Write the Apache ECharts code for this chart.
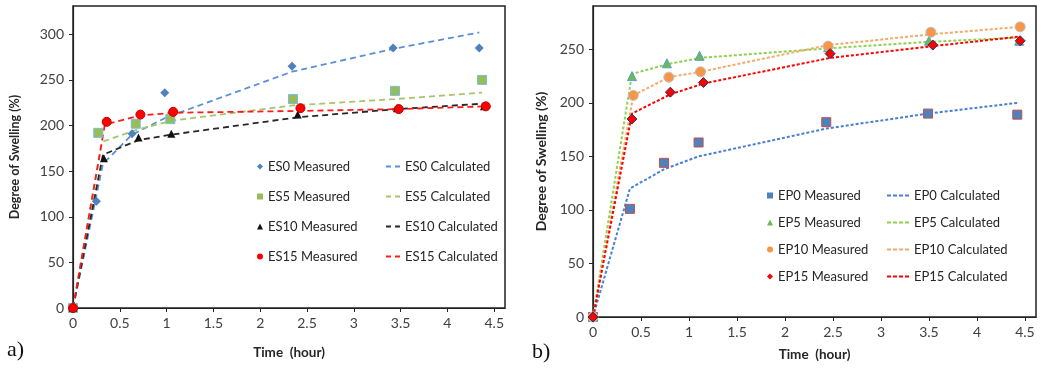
<!DOCTYPE html>
<html>
<head>
<meta charset="utf-8">
<script src="https://cdn.jsdelivr.net/npm/echarts@6/dist/echarts.min.js"></script>
<style>
  html, body { margin: 0; padding: 0; background: #fff; }
  #chart { width: 1044px; height: 371px; }
</style>
</head>
<body>
<div id="chart"></div>
<script>
// panel a) -- ES samples
const es0Time = [0, 0.25, 0.63, 0.98, 2.34, 3.42, 4.34];
const es0Measured = [0, 117, 191, 236, 265, 285, 285];
const es5Time = [0, 0.27, 0.67, 1.04, 2.35, 3.44, 4.37];
const es5Measured = [0, 192, 202, 207, 229, 238, 250];
const es10Time = [0, 0.33, 0.70, 1.05, 2.40, 3.46, 4.39];
const es10Measured = [0, 164, 187, 191, 212, 219, 221];
const es15Time = [0, 0.36, 0.72, 1.07, 2.43, 3.48, 4.41];
const es15Measured = [0, 204, 212, 215, 219, 218, 221];

const es0CalcTime = [0, 0.32, 0.63, 1.00, 2.34, 3.42, 4.34];
const es0Calculated = [0, 158, 190, 209, 259, 284, 302];
const es5CalcTime = [0, 0.31, 0.67, 1.04, 2.35, 3.44, 4.37];
const es5Calculated = [0, 182, 195, 205, 222, 229, 236];
const es10CalcTime = [0, 0.32, 0.70, 1.05, 2.40, 3.46, 4.39];
const es10Calculated = [0, 168, 184, 190, 209, 218, 224];
const es15CalcTime = [0, 0.34, 0.72, 1.07, 2.43, 3.48, 4.41];
const es15Calculated = [0, 201, 211, 214, 216, 218, 221];

// panel b) -- EP samples
const ep0Time = [0, 0.385, 0.74, 1.10, 2.43, 3.49, 4.42];
const ep0Measured = [0, 101, 144, 163, 182, 190, 189];
const ep5Time = [0, 0.406, 0.77, 1.11, 2.45, 3.50, 4.44];
const ep5Measured = [0, 225, 237, 244, 252, 258, 258];
const ep10Time = [0, 0.42, 0.79, 1.12, 2.45, 3.52, 4.45];
const ep10Measured = [0, 207, 224, 229, 253, 266, 271];
const ep15Time = [0, 0.406, 0.806, 1.15, 2.47, 3.54, 4.45];
const ep15Measured = [0, 185, 210, 219, 246, 254, 258];

const ep0Calculated = [0, 120, 138, 150, 176, 190, 200];
const ep5Calculated = [0, 227, 236, 242, 251, 257, 261];
const ep10Calculated = [0, 207, 224, 229, 254, 264, 271];
const ep15Calculated = [0, 190, 208, 218, 242, 253, 262];

const esNames = ['ES0', 'ES5', 'ES10', 'ES15'];
const epNames = ['EP0', 'EP5', 'EP10', 'EP15'];
const esSymbols = ['diamond', 'rect', 'triangle', 'circle'];
const epSymbols = ['rect', 'triangle', 'circle', 'diamond'];

function pairs(xs, ys) {
    return xs.map((x, i) => [x, ys[i]]);
}

const FONT = 'Lato';
const TEXT = '#262626';
// dashed legend keys, drawn as small filled bars
const LONG_DASH_ICON = 'path://M0,0h5v2h-5z M9,0h5v2h-5z';
const SHORT_DASH_ICON = 'path://M0,0h4v2h-4z M6,0h4v2h-4z M12,0h4v2h-4z M18,0h4v2h-4z';

function scatter(name, idx, data, symbol, size, color, border) {
    return {
        name: name, type: 'scatter', xAxisIndex: idx, yAxisIndex: idx,
        data: data, symbol: symbol, symbolSize: size, z: 5,
        itemStyle: { color: color, borderColor: border || color, borderWidth: border ? 1 : 0, opacity: 1 }
    };
}

function calcLine(name, idx, data, color, dash, width) {
    return {
        name: name, type: 'line', xAxisIndex: idx, yAxisIndex: idx,
        data: data, symbol: 'none', z: 3,
        lineStyle: { color: color, width: width, type: dash },
        itemStyle: { color: color }
    };
}

function xAxis(idx, max, nameGap) {
    return {
        type: 'value', gridIndex: idx, min: 0, max: max, interval: 0.5,
        name: 'Time  (hour)', nameLocation: 'middle', nameGap: nameGap,
        nameTextStyle: { fontFamily: FONT, fontWeight: 'bold', fontSize: 13.5, color: TEXT },
        axisLine: { lineStyle: { color: '#222', width: 1.2 } },
        axisTick: { length: 4, lineStyle: { color: '#222' } },
        axisLabel: { fontFamily: FONT, fontSize: 14, color: '#404040', margin: 8, showMaxLabel: false },
        splitLine: { show: false }
    };
}

function yAxis(idx, max, nameGap, nameSize) {
    return {
        type: 'value', gridIndex: idx, min: 0, max: max, interval: 50,
        name: 'Degree of Swelling (%)', nameLocation: 'middle', nameGap: nameGap,
        nameTextStyle: { fontFamily: FONT, fontWeight: 'bold', fontSize: nameSize, color: TEXT },
        axisLine: { show: true, lineStyle: { color: '#222', width: 1.2 } },
        axisTick: { show: true, length: 4, lineStyle: { color: '#222' } },
        axisLabel: { fontFamily: FONT, fontSize: 14, color: '#404040', margin: 9, showMaxLabel: false },
        splitLine: { show: false }
    };
}

function legend(items, left, top, gap, iconW, iconH) {
    return {
        orient: 'vertical', left: left, top: top, itemGap: gap,
        itemWidth: iconW, itemHeight: iconH, selectedMode: false,
        itemStyle: { borderWidth: 0 },
        data: items,
        textStyle: { fontFamily: FONT, fontSize: 13, color: TEXT }
    };
}

const chart = echarts.init(document.getElementById('chart'));

const option = {
    animation: false,
    backgroundColor: '#fff',
    title: [
        { text: 'a)', left: 2, top: 334, textStyle: { fontFamily: 'Liberation Serif', fontWeight: 'normal', fontSize: 22, color: '#111' } },
        { text: 'b)', left: 527, top: 336, textStyle: { fontFamily: 'Liberation Serif', fontWeight: 'normal', fontSize: 22, color: '#111' } }
    ],
    grid: [
        { left: 73, top: 6, width: 432, height: 302, show: true, borderColor: '#222', borderWidth: 1.5, backgroundColor: 'transparent' },
        { left: 593, top: 6, width: 443, height: 311, show: true, borderColor: '#222', borderWidth: 1.5, backgroundColor: 'transparent' }
    ],
    xAxis: [xAxis(0, 4.615, 38), xAxis(1, 4.615, 31)],
    yAxis: [yAxis(0, 331, 52, 12.5), yAxis(1, 290.5, 45, 14)],
    legend: [
        legend(esNames.map((n, i) => ({ name: n + ' Measured', icon: esSymbols[i] })), 252, 155, 17, 6, 6),
        legend(esNames.map(n => ({ name: n + ' Calculated', icon: LONG_DASH_ICON })), 381, 155, 17, 14, 2),
        legend(epNames.map((n, i) => ({ name: n + ' Measured', icon: epSymbols[i] })), 762, 184, 14, 6, 6),
        legend(epNames.map(n => ({ name: n + ' Calculated', icon: SHORT_DASH_ICON })), 882, 184, 14, 22, 2)
    ],
    series: [
        calcLine('ES0 Calculated', 0, pairs(es0CalcTime, es0Calculated), '#5B8FD3', [6, 4], 1.8),
        calcLine('ES5 Calculated', 0, pairs(es5CalcTime, es5Calculated), '#A6C46A', [6, 4], 1.8),
        calcLine('ES10 Calculated', 0, pairs(es10CalcTime, es10Calculated), '#262626', [6, 4], 1.8),
        calcLine('ES15 Calculated', 0, pairs(es15CalcTime, es15Calculated), '#FF1A1A', [6, 4], 1.8),
        scatter('ES0 Measured', 0, pairs(es0Time, es0Measured), esSymbols[0], 9, '#4F81BD'),
        scatter('ES5 Measured', 0, pairs(es5Time, es5Measured), esSymbols[1], 9, '#9BBB59', '#70C0D8'),
        scatter('ES10 Measured', 0, pairs(es10Time, es10Measured), esSymbols[2], 8, '#111111'),
        scatter('ES15 Measured', 0, pairs(es15Time, es15Measured), esSymbols[3], 9, '#FF0000', '#C00000'),

        calcLine('EP0 Calculated', 1, pairs(ep0Time, ep0Calculated), '#4A7FD0', [3, 2], 2),
        calcLine('EP5 Calculated', 1, pairs(ep5Time, ep5Calculated), '#8FD14F', [3, 2], 2),
        calcLine('EP10 Calculated', 1, pairs(ep10Time, ep10Calculated), '#F6A96A', [3, 2], 2),
        calcLine('EP15 Calculated', 1, pairs(ep15Time, ep15Calculated), '#FF0000', [3, 2], 2),
        scatter('EP0 Measured', 1, pairs(ep0Time, ep0Measured), epSymbols[0], 9, '#4F81BD', '#C0504D'),
        scatter('EP5 Measured', 1, pairs(ep5Time, ep5Measured), epSymbols[1], 9, '#6DBB4E', '#5B9BD5'),
        scatter('EP10 Measured', 1, pairs(ep10Time, ep10Measured), epSymbols[2], 10, '#F79646', '#BFBFBF'),
        scatter('EP15 Measured', 1, pairs(ep15Time, ep15Measured), epSymbols[3], 10, '#FF0000', '#1F3864')
    ]
};

chart.setOption(option);
</script>
</body>
</html>
